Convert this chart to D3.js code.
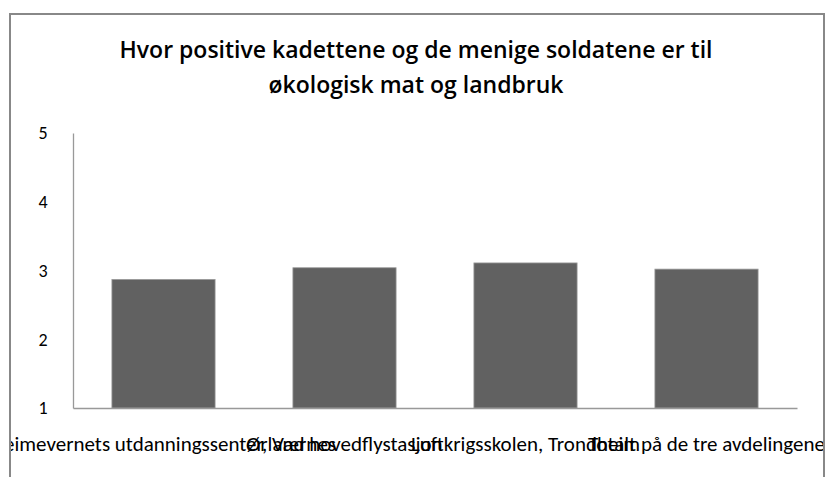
<!DOCTYPE html>
<html lang="no">
<head>
    <meta charset="UTF-8">
    <title>Hvor positive kadettene og de menige soldatene er</title>
    <script src="https://d3js.org/d3.v7.min.js" charset="utf-8"></script>
    <style>
        body, html {
            margin: 0;
            padding: 0;
            background: #fff;
            overflow: hidden;
        }
        text {
            font-family: Carlito, Calibri, Lato, "Open Sans", sans-serif;
            fill: #000;
        }
    </style>
</head>
<body>
    <svg id="chart"></svg>

    <script>
        // data
        const categories = [
            'Heimevernets utdanningssenter, Værnes',
            'Ørland hovedflystasjon',
            'Luftkrigsskolen, Trondheim',
            'Totalt på de tre avdelingene'
        ];
        const values = [2.87, 3.04, 3.11, 3.02];
        const yTicks = [1, 2, 3, 4, 5];
        const titleLines = [
            'Hvor positive kadettene og de menige soldatene er til',
            'økologisk mat og landbruk'
        ];

        const width = 828;
        const height = 477;

        const svg = d3.select('#chart')
            .attr('width', width)
            .attr('height', height);

        // clip for the chart area
        svg.append('clipPath')
            .attr('id', 'frame')
            .append('rect')
            .attr('x', 10).attr('y', 14)
            .attr('width', 814).attr('height', height - 14);

        const root = svg.append('g').attr('clip-path', 'url(#frame)');

        // outer frame
        svg.append('path')
            .attr('d', `M10,${height} V14 H824 V${height}`)
            .attr('fill', 'none')
            .attr('stroke', '#888')
            .attr('stroke-width', 2);

        // title
        root.append('text')
            .attr('text-anchor', 'middle')
            .style('font-family', '"Open Sans", sans-serif')
            .style('font-size', '23px')
            .style('font-weight', 600)
            .selectAll('tspan')
            .data(titleLines)
            .join('tspan')
            .attr('x', 416)
            .attr('y', (d, i) => 58 + i * 35)
            .text(d => d);

        // scales
        const x = d3.scaleBand()
            .domain(categories)
            .range([73, 797])
            .paddingInner(0.43)
            .paddingOuter(0.215);

        const y = d3.scaleLinear()
            .domain([1, 5])
            .range([408, 133]);

        // y axis
        const yAxis = root.append('g')
            .attr('transform', 'translate(73,0)')
            .call(d3.axisLeft(y).tickValues(yTicks).tickSize(0).tickPadding(24).tickFormat(d3.format('d')));
        yAxis.select('.domain').attr('stroke', '#999').attr('stroke-width', 1.3);
        yAxis.selectAll('text')
            .style('font-size', '18px')
            .attr('text-anchor', 'middle')
            .attr('dx', '-6');

        // bars
        root.append('g')
            .selectAll('rect')
            .data(values)
            .join('rect')
            .attr('x', (d, i) => x(categories[i]))
            .attr('y', d => y(d))
            .attr('width', x.bandwidth())
            .attr('height', d => y(1) - y(d))
            .attr('fill', '#616161')
            .attr('stroke', '#9a9a9a')
            .attr('stroke-width', 0.8);

        // x axis
        const xAxis = root.append('g')
            .attr('transform', 'translate(0,408)')
            .call(d3.axisBottom(x).tickSize(0).tickPadding(28).tickSizeOuter(0));
        xAxis.select('.domain').attr('stroke', '#999').attr('stroke-width', 1.3);
        xAxis.selectAll('text')
            .style('font-size', '21px');
    </script>
</body>
</html>
